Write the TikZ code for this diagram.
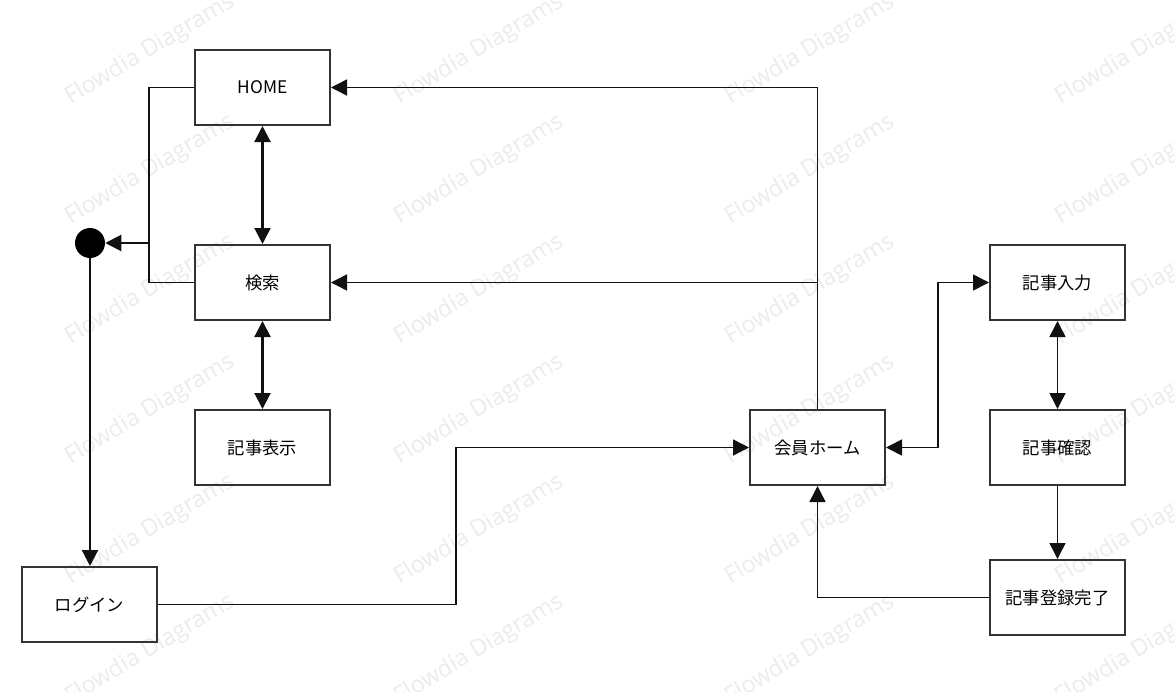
\documentclass[tikz,border=0pt]{standalone}
\usepackage{fontspec}
\setmainfont{Noto Sans CJK JP}
\newfontfamily\wmfont{Open Sans}
\usetikzlibrary{arrows.meta}
\definecolor{boxline}{HTML}{333333}
\definecolor{lineclr}{HTML}{111111}
\definecolor{wm}{HTML}{ECECEC}
\begin{document}
\begin{tikzpicture}[x=0.75pt,y=-0.75pt,
  stepbox/.style={draw=boxline,line width=1.5pt,minimum width=101.25pt,minimum height=56.25pt,inner sep=0pt,font=\fontsize{13pt}{15pt}\selectfont},
  conn/.style={line width=1.1pt,lineclr},
  heavy/.style={line width=1.6pt},
  medium/.style={line width=1.3pt},
  arr/.style={conn,-{Triangle[length=12pt,width=12pt]}},
  darr/.style={conn,{Triangle[length=12pt,width=12pt]}-{Triangle[length=12pt,width=12pt]}},
  wmtext/.style={text=wm,rotate=31,font=\wmfont\fontsize{17.5pt}{21pt}\selectfont}]
\fill[white] (0,0) rectangle (1175,692);
\useasboundingbox (0,0) rectangle (1175,692);
% watermark
\foreach \wx in {150,479,810,1140}{
  \foreach \wy in {50,170,290,410,530,650}{
    \node[wmtext] at (\wx,\wy) {Flowdia Diagrams};
  }
}
% nodes
\node[stepbox] (home) at (262.5,87.5) {HOME};
\node[stepbox] (search) at (262.5,282.5) {検索};
\node[stepbox] (view) at (262.5,447.5) {記事表示};
\node[stepbox] (login) at (89.5,604.5) {ログイン};
\node[stepbox] (kaiin) at (817.5,447.5) {会員ホーム};
\node[stepbox] (input) at (1057.5,282.5) {記事入力};
\node[stepbox] (confirm) at (1057.5,447.5) {記事確認};
\node[stepbox] (done) at (1057.5,597.5) {記事登録完了};
\node[circle,fill=black,minimum size=22.5pt,inner sep=0pt] (dot) at (90,243) {};
\coordinate (j) at (150,243);
% connectors
\draw[conn] (home.west) -- ++(-45,0) |- (search.west);
\draw[arr,heavy] (j) -- (dot);
\draw[arr,heavy] (dot) -- (dot |- login.north);
\draw[darr,heavy] (home) -- (search);
\draw[darr,heavy] (search) -- (view);
\draw[arr] (kaiin.north) |- (home.east);
\draw[arr] (kaiin.north |- search.east) -- (search.east);
\draw[arr] (login.east) -- ++(298,0) |- (kaiin.west);
\draw[darr,medium] (kaiin.east) -- ++(52,0) |- (input.west);
\draw[darr] (input) -- (confirm);
\draw[arr] (confirm) -- (done);
\draw[arr] (done.west) -| (kaiin.south);
\end{tikzpicture}
\end{document}
